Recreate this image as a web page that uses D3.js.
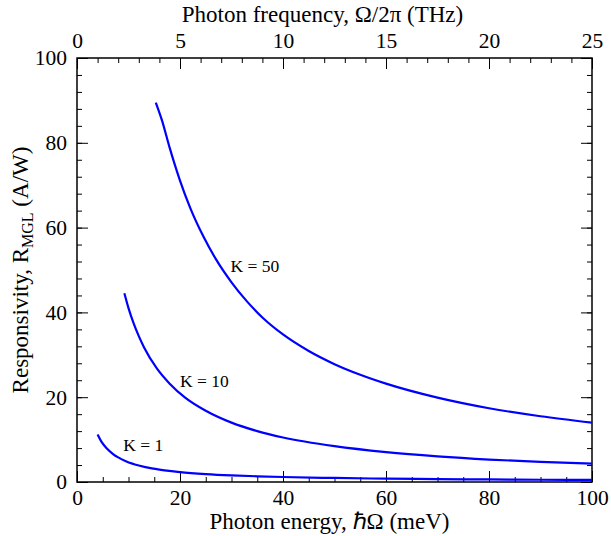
<!DOCTYPE html>
<html>
<head>
<meta charset="utf-8">
<script src="https://cdn.jsdelivr.net/npm/d3@7"></script>
<style>
  body { margin: 0; background: #fff; }
  svg text { font-family: "Liberation Serif", "Times New Roman", serif; }
</style>
</head>
<body>
<div id="chart"></div>
<script>
// values
const energyK1 = [4.0, 4.8, 5.8, 7, 8, 9.6, 12, 14.8, 17, 20, 25, 30, 35, 40, 50, 60, 70, 80, 90, 100];
const respK1   = [11.2, 9.4, 7.9, 6.6, 5.8, 4.85, 3.9, 3.15, 2.75, 2.34, 1.88, 1.57, 1.35, 1.18, 0.95, 0.79, 0.68, 0.6, 0.53, 0.48];

const energyK10 = [9.2, 10, 11, 12, 13, 15.5, 18, 21, 25, 30, 35, 40, 50, 60, 70, 80, 90, 100];
const respK10   = [44.5, 41, 37.4, 34.4, 31.8, 26.8, 23.2, 19.9, 16.8, 14, 12, 10.5, 8.45, 7.05, 6.05, 5.3, 4.75, 4.35];

const energyK50 = [15.3, 16.5, 18, 20, 22, 24.5, 27, 30, 33, 36, 40, 45, 50, 55, 60, 70, 80, 90, 100];
const respK50   = [89.5, 85.3, 78.8, 71.1, 64.6, 58.0, 52.5, 47.1, 42.6, 38.8, 34.8, 30.9, 27.8, 25.3, 23.2, 19.9, 17.4, 15.5, 14.0];

const curveLabels = ["K = 1", "K = 10", "K = 50"];
const labelEnergy = [9, 20, 29.8];
const labelResp   = [7.4, 22.4, 49.6];

const energyTicks = [0, 20, 40, 60, 80, 100];
const freqTicks = [0, 5, 10, 15, 20, 25];
const respTicks = [0, 20, 40, 60, 80, 100];

// layout
let svgWidth = 611, svgHeight = 536;
let margin = {top: 58, right: 19, bottom: 54, left: 77};
let width = svgWidth - margin.left - margin.right;
let height = svgHeight - margin.top - margin.bottom;
let major = 11, minor = 5;
let tickFont = 21.5, titleFont = 23;
let serif = '"Liberation Serif", "Times New Roman", serif';

let svg = d3.select("#chart").append("svg")
  .attr("width", svgWidth)
  .attr("height", svgHeight);

let g = svg.append("g")
  .attr("transform", `translate(${margin.left},${margin.top})`);

let xScale = d3.scaleLinear().domain([0, 100]).range([0, width]);
let fScale = d3.scaleLinear().domain([0, 25]).range([0, width]);
let yScale = d3.scaleLinear().domain([0, 100]).range([height, 0]);

function styleAxis(sel) {
  sel.attr("font-family", null).attr("font-size", null);
  sel.select(".domain").remove();
  sel.selectAll("line").attr("stroke", "#000").attr("stroke-width", 1);
  sel.selectAll("text")
    .style("font-family", serif)
    .style("font-size", tickFont + "px")
    .attr("fill", "#000");
}

//bottom axis
g.append("g").attr("transform", `translate(0,${height})`)
  .call(d3.axisBottom(xScale).tickValues(d3.range(0, 101, 5)).tickSize(-minor).tickFormat(""))
  .call(styleAxis);
g.append("g").attr("transform", `translate(0,${height})`)
  .call(d3.axisBottom(xScale).tickValues(energyTicks).tickSize(-major).tickPadding(8))
  .call(styleAxis);

//top axis
g.append("g")
  .call(d3.axisTop(fScale).tickValues(d3.range(0, 26, 1)).tickSize(-minor).tickFormat(""))
  .call(styleAxis);
g.append("g")
  .call(d3.axisTop(fScale).tickValues(freqTicks).tickSize(-major).tickPadding(10))
  .call(styleAxis);

//left axis
g.append("g")
  .call(d3.axisLeft(yScale).tickValues(d3.range(0, 101, 4)).tickSize(-minor).tickFormat(""))
  .call(styleAxis);
g.append("g")
  .call(d3.axisLeft(yScale).tickValues(respTicks).tickSize(-major).tickPadding(10))
  .call(styleAxis);

//right axis
g.append("g").attr("transform", `translate(${width},0)`)
  .call(d3.axisRight(yScale).tickValues(d3.range(0, 101, 4)).tickSize(-minor).tickFormat(""))
  .call(styleAxis);
g.append("g").attr("transform", `translate(${width},0)`)
  .call(d3.axisRight(yScale).tickValues(respTicks).tickSize(-major).tickFormat(""))
  .call(styleAxis);

//frame
g.append("rect")
  .attr("width", width).attr("height", height)
  .attr("fill", "none").attr("stroke", "#000").attr("stroke-width", 1.5);

//curves
let line = d3.line()
  .x(d => xScale(d[0]))
  .y(d => yScale(d[1]))
  .curve(d3.curveMonotoneX);

let series = [
  d3.zip(energyK1, respK1),
  d3.zip(energyK10, respK10),
  d3.zip(energyK50, respK50)
];

g.selectAll("path.curve").data(series).enter()
  .append("path")
  .attr("class", "curve")
  .attr("fill", "none")
  .attr("stroke", "#0000ff")
  .attr("stroke-width", 2.2)
  .attr("d", line);

g.selectAll("text.klabel").data(curveLabels).enter()
  .append("text")
  .attr("class", "klabel")
  .attr("x", (d, i) => xScale(labelEnergy[i]))
  .attr("y", (d, i) => yScale(labelResp[i]))
  .attr("font-size", 17.5)
  .attr("fill", "#000")
  .text(d => d);

//axis titles
svg.append("text")
  .attr("x", margin.left + width / 2 - 5)
  .attr("y", 529)
  .attr("text-anchor", "middle")
  .attr("font-size", titleFont)
  .text("Photon energy, ℏΩ (meV)");

svg.append("text")
  .attr("x", margin.left + width / 2 - 12)
  .attr("y", 22)
  .attr("text-anchor", "middle")
  .attr("font-size", titleFont)
  .text("Photon frequency, Ω/2π (THz)");

let yTitle = svg.append("text")
  .attr("transform", `translate(28,${margin.top + height / 2}) rotate(-90)`)
  .attr("text-anchor", "middle")
  .attr("font-size", titleFont);
yTitle.append("tspan").text("Responsivity, R");
yTitle.append("tspan").attr("font-size", 16).attr("dy", 5).text("MGL");
yTitle.append("tspan").attr("dy", -5).text(" (A/W)");
</script>
</body>
</html>
